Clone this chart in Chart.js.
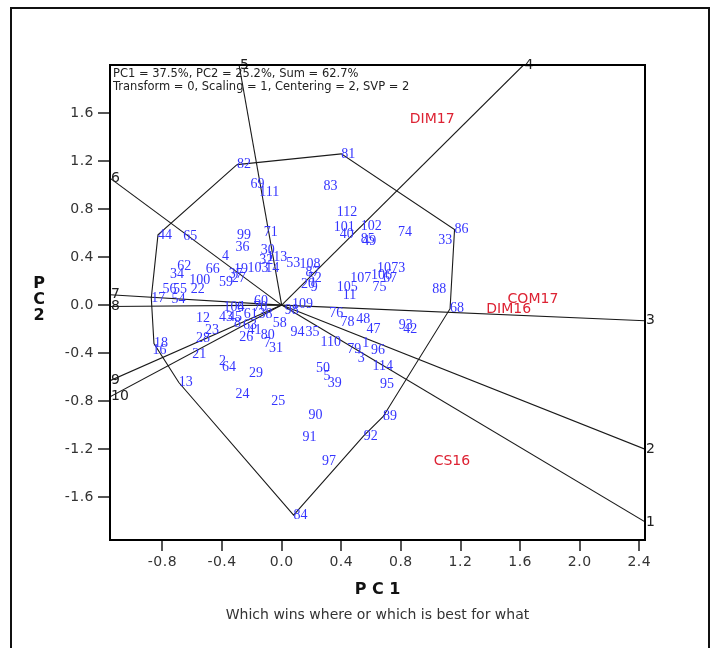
<!DOCTYPE html>
<html><head><meta charset="utf-8">
<script src="https://cdn.jsdelivr.net/npm/chart.js@4"></script>
<style>html,body{margin:0;padding:0;background:#fff}canvas{display:block}</style>
</head><body>
<canvas id="c" width="711" height="648"></canvas>
<script>
// ---- data ----
const genotypeLabels = ['82','81','69','111','83','112','101','40','102','85','49','74','86','33','10','73','106','67','107','105','11','75','88','68','99','71','36','4','30','113','53','108','19','103','32','14','37','59','27','66','62','34','100','22','65','44','56','55','54','17','104','6','60','70','98','109','76','78','48','47','93','42','94','35','110','79','1','3','96','114','95','50','5','39','90','89','92','91','97','84','24','25','29','64','2','13','21','28','23','12','16','18','43','45','8','61','63','41','26','80','7','31','58','38','20','9','87','52'];
const genotypePC1 = [-0.30,0.40,-0.21,-0.15,0.28,0.37,0.35,0.39,0.53,0.53,0.54,0.78,1.16,1.05,0.64,0.735,0.60,0.68,0.46,0.37,0.41,0.61,1.01,1.13,-0.30,-0.12,-0.31,-0.40,-0.14,-0.10,0.03,0.12,-0.32,-0.23,-0.15,-0.11,-0.355,-0.42,-0.335,-0.51,-0.70,-0.75,-0.62,-0.61,-0.66,-0.83,-0.80,-0.73,-0.74,-0.875,-0.39,-0.30,-0.185,-0.19,0.02,0.07,0.32,0.395,0.50,0.57,0.785,0.815,0.06,0.16,0.26,0.44,0.54,0.51,0.60,0.61,0.66,0.23,0.28,0.31,0.18,0.68,0.55,0.14,0.27,0.08,-0.31,-0.07,-0.22,-0.40,-0.42,-0.69,-0.60,-0.575,-0.515,-0.575,-0.866,-0.857,-0.42,-0.36,-0.32,-0.255,-0.26,-0.23,-0.285,-0.14,-0.12,-0.085,-0.06,-0.155,0.13,0.195,0.16,0.175];
const genotypePC2 = [1.17,1.26,1.01,0.94,0.99,0.77,0.65,0.59,0.655,0.55,0.53,0.605,0.63,0.54,0.31,0.31,0.25,0.22,0.22,0.15,0.08,0.15,0.13,-0.03,0.58,0.61,0.48,0.405,0.46,0.40,0.35,0.34,0.30,0.31,0.37,0.31,0.26,0.19,0.22,0.295,0.32,0.26,0.205,0.13,0.57,0.585,0.13,0.13,0.05,0.06,-0.017,-0.02,0.035,-0.015,-0.04,0.01,-0.067,-0.145,-0.12,-0.20,-0.17,-0.20,-0.23,-0.23,-0.31,-0.37,-0.32,-0.44,-0.38,-0.51,-0.66,-0.525,-0.595,-0.655,-0.92,-0.93,-1.09,-1.10,-1.30,-1.75,-0.74,-0.80,-0.57,-0.52,-0.47,-0.645,-0.41,-0.28,-0.21,-0.11,-0.38,-0.32,-0.10,-0.10,-0.15,-0.08,-0.165,-0.21,-0.27,-0.255,-0.315,-0.36,-0.15,-0.08,0.17,0.15,0.27,0.22];

// vertex genotypes of the "which-won-where" polygon (in drawing order)
const hullGenotypes = ['82','81','86','68','89','92','84','13','18','17','44'];

// sector rays from the biplot origin, numbered 1..10, with their end points
const rayLabels = ['1','2','3','4','5','6','7','8','9','10'];
const rayEndPC1 = [2.438,2.438,2.438,1.623,-0.286,-1.152,-1.152,-1.152,-1.152,-1.152];
const rayEndPC2 = [-1.806,-1.20,-0.131,2.0,2.0,1.058,0.086,-0.012,-0.63,-0.764];

// environments
const envNames = ['DIM17','COM17','DIM16','CS16'];
const envPC1 = [0.86,1.516,1.373,1.02];
const envPC2 = [1.545,0.05,-0.033,-1.30];

// axes
const xTickValues = [-0.8,-0.4,0.0,0.4,0.8,1.2,1.6,2.0,2.4];
const yTickValues = [-1.6,-1.2,-0.8,-0.4,0.0,0.4,0.8,1.2,1.6];
const xRange = [-1.152, 2.438];
const yRange = [-1.957, 2.0];
const xTitle = 'P C 1';
const yTitleLetters = ['P','C','2'];
const subtitle = 'Which wins where or which is best for what';
const infoLines = ['PC1 = 37.5%, PC2 = 25.2%, Sum = 62.7%','Transform = 0, Scaling = 1, Centering = 2, SVP = 2'];

// ---- build datasets ----
const genoPoints = genotypeLabels.map((l,i)=>({x:genotypePC1[i], y:genotypePC2[i]}));
const hullPoints = hullGenotypes.map(id=>genoPoints[genotypeLabels.indexOf(id)]);
hullPoints.push(hullPoints[0]);

const LINE = '#1a1a1a';
const datasets = [];
datasets.push({data:hullPoints, showLine:true, borderColor:LINE, borderWidth:1.1, pointRadius:0, fill:false, tension:0});
rayLabels.forEach((l,i)=>{
  datasets.push({data:[{x:0,y:0},{x:rayEndPC1[i],y:rayEndPC2[i]}], showLine:true, borderColor:LINE, borderWidth:1.1, pointRadius:0, fill:false});
});
datasets.push({data:genoPoints, pointRadius:0, showLine:false,
  textLabels:genotypeLabels, textFont:'14px "Liberation Serif", serif', textColor:'#3535ff', textSpacing:'0px'});
datasets.push({data:rayLabels.map((l,i)=>({x:rayEndPC1[i],y:rayEndPC2[i]})), pointRadius:0, showLine:false,
  textLabels:rayLabels, textFont:'14px "DejaVu Sans", sans-serif', textColor:'#222', textSpacing:'0px', textDx:1});
datasets.push({data:envNames.map((l,i)=>({x:envPC1[i],y:envPC2[i]})), pointRadius:0, showLine:false,
  textLabels:envNames, textFont:'14px "DejaVu Sans", sans-serif', textColor:'#dd2233', textSpacing:'0px'});

const labelPlugin = {
  id:'textLabels',
  beforeDraw(chart){ chart.ctx.letterSpacing = '0.5px'; },
  afterDatasetsDraw(chart){
    const ctx = chart.ctx;
    chart.data.datasets.forEach((ds,i)=>{
      if(!ds.textLabels) return;
      const meta = chart.getDatasetMeta(i);
      ctx.save();
      ctx.font = ds.textFont; ctx.fillStyle = ds.textColor;
      ctx.textAlign = 'left'; ctx.textBaseline = 'middle';
      ctx.letterSpacing = ds.textSpacing || '0px';
      meta.data.forEach((pt,j)=>{ ctx.fillText(ds.textLabels[j], pt.x + (ds.textDx||0), pt.y); });
      ctx.restore();
    });
  },
  afterDraw(chart){
    const ctx = chart.ctx, a = chart.chartArea;
    ctx.save();
    ctx.letterSpacing = '0px';
    // plot frame
    ctx.strokeStyle = '#000'; ctx.lineWidth = 2;
    ctx.strokeRect(a.left, a.top, a.right - a.left, a.bottom - a.top);
    // outer frame
    ctx.lineWidth = 2; ctx.strokeStyle = '#111';
    ctx.strokeRect(11, 8, 698, 660);
    // info text
    ctx.fillStyle = '#222'; ctx.font = '11.5px "DejaVu Sans", sans-serif';
    ctx.textAlign = 'left'; ctx.textBaseline = 'middle';
    infoLines.forEach((t,i)=>ctx.fillText(t, a.left + 3, a.top + 9 + i*13));
    // x title & subtitle
    const cx = (a.left + a.right)/2;
    ctx.textAlign = 'center';
    ctx.fillStyle = '#111'; ctx.font = 'bold 16px "DejaVu Sans", sans-serif';
    ctx.fillText(xTitle, cx, a.bottom + 50);
    ctx.fillStyle = '#333'; ctx.font = '14px "DejaVu Sans", sans-serif';
    ctx.fillText(subtitle, cx, a.bottom + 75);
    // y title stacked
    ctx.fillStyle = '#111'; ctx.font = 'bold 16px "DejaVu Sans", sans-serif';
    const ym = chart.scales.y.getPixelForValue(0);
    yTitleLetters.forEach((c,i)=>ctx.fillText(c, 39, ym - 21 + i*16));
    ctx.restore();
  }
};

const tickFont = {family:'DejaVu Sans', size:14};
new Chart(document.getElementById('c'), {
  type:'scatter',
  data:{datasets},
  options:{
    responsive:false, devicePixelRatio:1, animation:false,
    layout:{padding:{left:0, top:65, right:66, bottom:0}},
    plugins:{legend:{display:false}, tooltip:{enabled:false}},
    scales:{
      x:{type:'linear', min:xRange[0], max:xRange[1],
        afterBuildTicks:s=>{ s.ticks = xTickValues.map(v=>({value:v})); },
        afterFit:s=>{ s.height = 108; },
        ticks:{callback:v=>Number(v).toFixed(1), font:tickFont, color:'#333', padding:3, autoSkip:false, maxRotation:0},
        grid:{drawOnChartArea:false, drawTicks:true, tickLength:11, color:'#555', lineWidth:2},
        border:{display:false}},
      y:{type:'linear', min:yRange[0], max:yRange[1],
        afterBuildTicks:s=>{ s.ticks = yTickValues.map(v=>({value:v})); },
        afterFit:s=>{ s.width = 110; },
        ticks:{callback:v=>Number(v).toFixed(1), font:tickFont, color:'#333', padding:4, autoSkip:false},
        grid:{drawOnChartArea:false, drawTicks:true, tickLength:12, color:'#555', lineWidth:2},
        border:{display:false}}
    }
  },
  plugins:[labelPlugin]
});
</script>
</body></html>
